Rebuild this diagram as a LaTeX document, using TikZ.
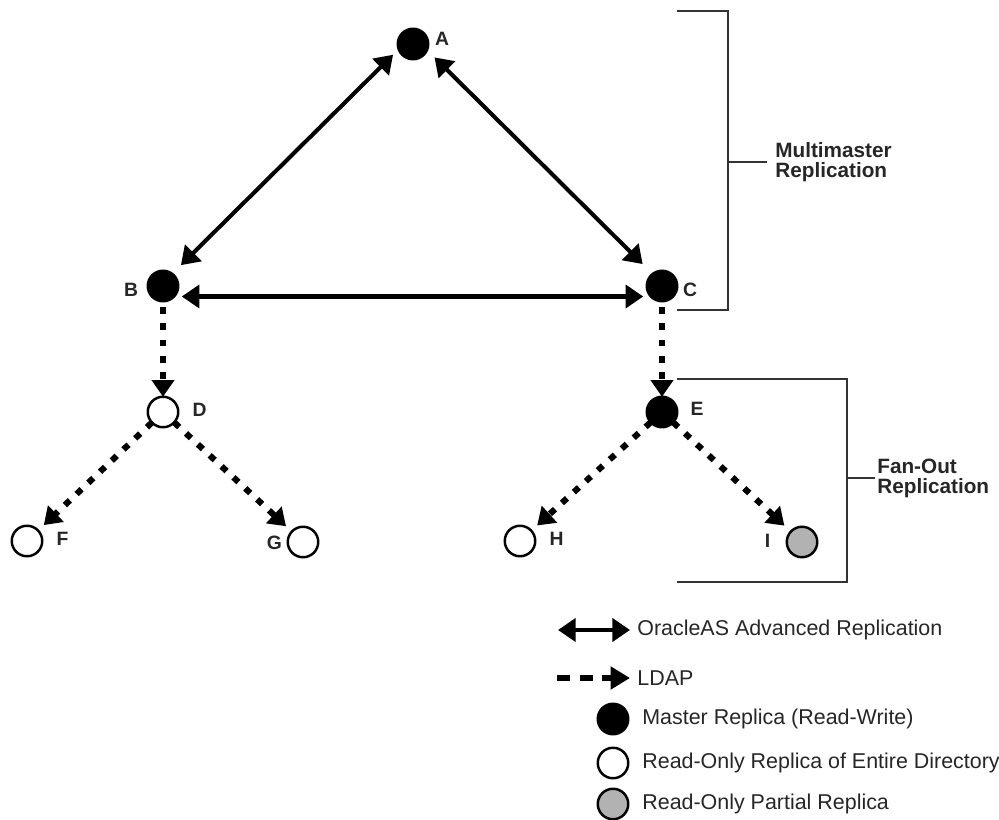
\documentclass[tikz,border=0pt]{standalone}
\usepackage{fontspec}
\setmainfont{Liberation Sans}
\usepackage{tikz}
\usetikzlibrary{arrows.meta}
\usetikzlibrary{positioning}

\def\tipA{Triangle[length=10pt,width=13pt]}
\def\tipB{Triangle[length=9.5pt,width=12.5pt]}

\tikzset{
  replica/.style={circle, draw=black, line width=1.4pt, minimum size=0.61cm,
                  inner sep=0pt, outer sep=0pt, fill=white},
  master/.style={replica, fill=black},
  partial/.style={replica, fill=black!30},
  letter/.style={font=\bfseries\fontsize{11}{12}\selectfont, inner sep=0pt, text=black!85},
  groupname/.style={font=\bfseries\fontsize{11.8}{11.3}\selectfont, align=left,
                    anchor=west, inner sep=0pt, text=black!85},
  keytext/.style={font=\fontsize{12.2}{14}\selectfont, anchor=west, inner sep=0pt, text=black!85},
  repl/.style={line width=2.3pt, {\tipA}-{\tipA}},
  ldap/.style={line width=3.5pt, dash pattern=on 3.9pt off 5.3pt, -{\tipB}},
  bracket/.style={line width=0.75pt, black!80}
}

\begin{document}
\begin{tikzpicture}[x=0.02cm, y=-0.02cm]

\useasboundingbox (0,0) rectangle (999,820);

% replicas
\node[master]  (A) at (413, 44) {};
\node[master]  (B) at (163,286) {};
\node[master]  (C) at (662,286) {};
\node[replica] (D) at (163,412) {};
\node[master]  (E) at (662,412) {};
\node[replica] (F) at ( 27,541) {};
\node[replica] (G) at (303,542) {};
\node[replica] (H) at (520,541) {};
\node[partial] (I) at (802,542) {};

% letters
\node[letter] (lA) at (442  ,39  ) {A};
\node[letter] (lB) at (131  ,290 ) {B};
\node[letter] (lC) at (690  ,290 ) {C};
\node[letter] (lD) at (199.5,410 ) {D};
\node[letter] (lE) at (697  ,409 ) {E};
\node[letter] (lF) at (62.5 ,538.5) {F};
\node[letter] (lG) at (274.5,542.5) {G};
\node[letter] (lH) at (556.5,539 ) {H};
\node[letter] (lI) at (767.5,541 ) {I};

% multimaster links
\draw[repl, shorten <=4.5pt, shorten >=7pt] (A.200) -- (B.53);
\draw[repl, shorten <=6pt, shorten >=8pt] (A.337) -- (C.128);
\draw[repl, shorten <=2pt, shorten >=2pt]
  ([yshift=-0.21cm]B.east) -- ([yshift=-0.21cm]C.west);

% fan-out links
\draw[ldap, shorten <=3.4pt] (B.south) -- (D.north);
\draw[ldap, shorten <=3.4pt] (C.south) -- (E.north);
\draw[ldap, shorten >=4.5pt] (D) -- (F);
\draw[ldap, shorten >=4.5pt] (D) -- (G);
\draw[ldap, shorten >=4.5pt] (E) -- (H);
\draw[ldap, shorten >=5pt]   (E) -- (I);

% brackets
\draw[bracket] (677,11) -- (728,11) -- (728,310) -- (677,310);
\draw[bracket] (728,162) -- (767,162);
\node[groupname] (mm) at (775,162) {Multimaster\\Replication};

\draw[bracket] (677,379) -- (847,379) -- (847,582) -- (677,582);
\draw[bracket] (847,478) -- (875,478);
\node[groupname] (fo) at (877,478) {Fan-Out\\Replication};

% key
\coordinate (k1a) at (558,630);
\coordinate (k1b) at (630,630);
\draw[repl] (k1a) -- (k1b);
\node[keytext] (t1) at (637,630) {OracleAS Advanced Replication};

\coordinate (k2a) at (557,678);
\coordinate (k2b) at (630,678);
\draw[line width=3.4pt, dash pattern=on 7.4pt off 5.4pt,
      -{Triangle[length=11pt,width=12.5pt]}] (k2a) -- (k2b);
\node[keytext] (t2) at (637,678) {LDAP};

\node[master]  (k3) at (613,719) {};
\node[keytext] (t3) at (642,719) {Master Replica (Read-Write)};
\node[replica] (k4) at (613,763) {};
\node[keytext] (t4) at (642,763) {Read-Only Replica of Entire Directory};
\node[partial] (k5) at (613,804) {};
\node[keytext] (t5) at (642,804) {Read-Only Partial Replica};

\end{tikzpicture}
\end{document}
